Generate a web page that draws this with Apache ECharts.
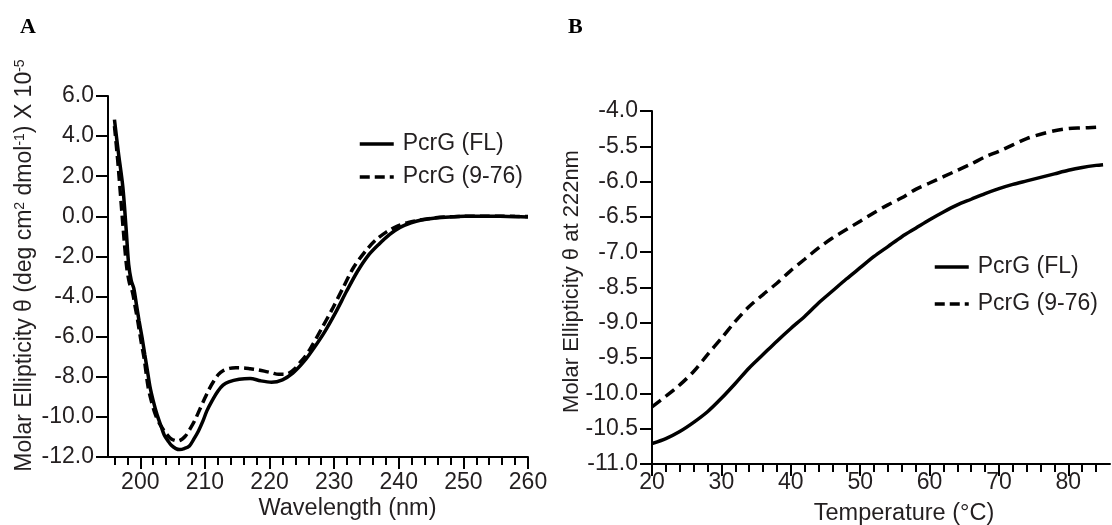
<!DOCTYPE html>
<html><head><meta charset="utf-8">
<script src="https://cdn.jsdelivr.net/npm/echarts@6/dist/echarts.min.js"></script>
<style>html,body{margin:0;padding:0;background:#fff}#c{width:1112px;height:525px}</style>
</head><body><div id="c"></div>
<script>
// ---- Panel A: CD spectra ----
const wlFL = [196, 196.6, 197.3, 197.8, 198.2, 198.6, 199.0, 199.4, 199.8, 200.3, 200.7, 201.1, 201.5, 202.0, 202.6, 203.2, 203.7, 204.3, 204.8, 205.5, 206.1, 206.8, 207.6, 208.3, 209.0, 209.7, 210.3, 211.1, 212.0, 212.8, 213.7, 215.3, 217.0, 218.6, 220.3, 222.0, 223.6, 225.3, 226.9, 228.6, 230.3, 231.9, 233.6, 235.2, 236.9, 238.6, 240.2, 241.9, 243.5, 245.7, 247.9, 250.2, 253, 255.7, 258, 260];
const cdFL = [4.82, 3.2, 1.45, -0.6, -2.4, -3.2, -3.6, -4.4, -5.2, -6.1, -6.9, -7.7, -8.5, -9.2, -9.9, -10.45, -10.9, -11.2, -11.42, -11.58, -11.63, -11.58, -11.45, -11.1, -10.7, -10.2, -9.7, -9.2, -8.72, -8.42, -8.25, -8.12, -8.08, -8.2, -8.27, -8.15, -7.82, -7.25, -6.55, -5.72, -4.75, -3.75, -2.75, -1.98, -1.4, -0.9, -0.55, -0.32, -0.18, -0.08, -0.03, 0, 0.01, 0, -0.02, -0.03];
const wl976 = [196.0, 196.5, 197.0, 197.5, 197.9, 198.3, 198.8, 199.2, 199.6, 200.1, 200.6, 201.2, 201.7, 202.3, 203.0, 203.7, 204.3, 204.8, 205.4, 205.9, 206.5, 207.0, 207.7, 208.4, 209.1, 209.8, 210.6, 211.4, 212.1, 212.8, 213.8, 214.8, 216.0, 217.0, 218.1, 219.2, 220.3, 221.4, 222.3, 223.1, 223.9, 224.7, 225.6, 226.4, 228.0, 229.7, 231.4, 233.0, 234.7, 236.3, 238.0, 239.7, 241.5, 243.5, 245.7, 248, 250.2, 253, 255.7, 258, 260];
const cd976 = [4.5, 2.8, 0.8, -1.2, -2.55, -3.3, -3.8, -4.5, -5.2, -6.2, -7.1, -8.5, -9.2, -9.85, -10.35, -10.7, -10.95, -11.1, -11.18, -11.2, -11.1, -10.95, -10.6, -10.2, -9.7, -9.2, -8.65, -8.2, -7.88, -7.7, -7.58, -7.55, -7.56, -7.6, -7.65, -7.72, -7.8, -7.88, -7.88, -7.8, -7.6, -7.3, -6.95, -6.55, -5.63, -4.63, -3.55, -2.55, -1.8, -1.22, -0.8, -0.5, -0.3, -0.17, -0.07, -0.02, 0, 0.01, 0.01, 0, -0.01];
const xMajorA = [200, 210, 220, 230, 240, 250, 260];
const xMinorA = [196, 198, 202, 204, 206, 208, 212, 214, 216, 218, 222, 224, 226, 228, 232, 234, 236, 238, 242, 244, 246, 248, 252, 254, 256, 258];

// ---- Panel B: thermal melt at 222 nm ----
const tempFL = [20, 22, 24, 26, 28, 30, 32, 34, 36, 38, 40, 42, 44, 46, 48, 50, 52, 54, 56, 58, 60, 62, 64, 66, 68, 70, 72, 74, 76, 78, 80, 82, 84, 85];
const thFL = [-10.71, -10.64, -10.54, -10.41, -10.26, -10.07, -9.86, -9.64, -9.45, -9.26, -9.08, -8.91, -8.72, -8.55, -8.38, -8.22, -8.06, -7.92, -7.78, -7.66, -7.54, -7.43, -7.33, -7.25, -7.17, -7.10, -7.04, -6.99, -6.94, -6.89, -6.84, -6.80, -6.77, -6.76];
const temp976 = [20, 22, 24, 26, 28, 30, 32, 34, 36, 38, 40, 42, 44, 46, 48, 50, 52, 54, 56, 58, 60, 62, 64, 66, 68, 70, 72, 74, 76, 78, 80, 82, 84];
const th976 = [-10.19, -10.04, -9.88, -9.69, -9.45, -9.22, -8.98, -8.77, -8.60, -8.44, -8.26, -8.10, -7.94, -7.80, -7.68, -7.56, -7.44, -7.33, -7.23, -7.11, -7.02, -6.93, -6.84, -6.75, -6.65, -6.57, -6.48, -6.39, -6.33, -6.28, -6.25, -6.24, -6.23];
const xMajorB = [20, 30, 40, 50, 60, 70, 80];
const xMinorB = [22, 24, 26, 28, 32, 34, 36, 38, 42, 44, 46, 48, 52, 54, 56, 58, 62, 64, 66, 68, 72, 74, 76, 78, 82, 84];
const yLabelsB = ['-11.0', '-10.5', '-10.0', '-9.5', '-9.0', '-8.5', '-7.0', '-6.5', '-6.0', '-5.5', '-4.0'];

const names = ['PcrG (FL)', 'PcrG (9-76)'];

const zip = (a, b) => a.map((v, i) => [v, b[i]]);
const FONT = '"Liberation Sans", Arial, Helvetica, sans-serif';
const TXT = '#231f20';
const axisLine = { show: true, onZero: false, lineStyle: { color: '#000', width: 2 } };
const tickStyle = { color: '#000', width: 2 };

function mainX(grid, min, max, major, name, gap, margin, pad) {
  return {
    type: 'value', gridIndex: grid, min: min, max: max, position: 'bottom',
    axisLine: axisLine,
    axisTick: { show: true, customValues: major, length: 12, lineStyle: tickStyle },
    axisLabel: { show: true, customValues: major, fontSize: 23, color: TXT, fontFamily: FONT, margin: margin },
    splitLine: { show: false },
    name: name, nameLocation: 'middle', nameGap: gap, nameMoveOverlap: false,
    nameTextStyle: { fontSize: 23.5, color: TXT, fontFamily: FONT, padding: pad }
  };
}
function minorX(grid, min, max, minor) {
  return {
    type: 'value', gridIndex: grid, min: min, max: max, position: 'bottom', offset: 0,
    axisLine: { show: false, onZero: false },
    axisTick: { show: true, customValues: minor, length: 8, lineStyle: tickStyle },
    axisLabel: { show: false },
    splitLine: { show: false }
  };
}
function legendAt(left, top, gap) {
  return {
    data: names.slice(), orient: 'vertical', left: left, top: top, padding: 0,
    itemWidth: 34, itemHeight: 14, itemGap: gap,
    itemStyle: { opacity: 0 },
    lineStyle: { width: 3.5 },
    textStyle: { fontSize: 23, color: TXT, fontFamily: FONT, lineHeight: 24, padding: [0, 0, 0, 4] },
    selectedMode: false
  };
}

const chart = echarts.init(document.getElementById('c'), null, { renderer: 'canvas' });
chart.setOption({
  animation: false,
  backgroundColor: '#fff',
  title: [
    { text: 'A', left: 20, top: 16, padding: 0, textStyle: { fontFamily: '"Liberation Serif", "Times New Roman", serif', fontWeight: 'bold', fontSize: 22, color: '#000' } },
    { text: 'B', left: 568, top: 16, padding: 0, textStyle: { fontFamily: '"Liberation Serif", "Times New Roman", serif', fontWeight: 'bold', fontSize: 22, color: '#000' } }
  ],
  grid: [
    { left: 108, top: 96, width: 420, height: 361, outerBoundsMode: 'none', containLabel: false },
    { left: 652, top: 111, width: 458, height: 353, outerBoundsMode: 'none', containLabel: false }
  ],
  legend: [legendAt(358, 132, 9), legendAt(933, 255, 13)],
  xAxis: [
    mainX(0, 195, 260, xMajorA, 'Wavelength (nm)', 40, 14, [0, 0, 0, 59]),
    minorX(0, 195, 260, xMinorA),
    mainX(1, 20, 86, xMajorB, 'Temperature (°C)', 38, 7, [0, 0, 0, 46]),
    minorX(1, 20, 86, xMinorB)
  ],
  yAxis: [
    {
      type: 'value', gridIndex: 0, min: -12, max: 6, interval: 2,
      axisLine: axisLine,
      axisTick: { show: true, length: 12, lineStyle: tickStyle },
      axisLabel: { fontSize: 23, color: TXT, fontFamily: FONT, margin: 14, formatter: v => v.toFixed(1) },
      splitLine: { show: false },
      name: 'Molar Ellipticity θ (deg cm{s|2} dmol{s|-1}) X 10{s|-5}',
      nameLocation: 'middle', nameGap: 72, nameMoveOverlap: false,
      nameTextStyle: { fontSize: 23, color: TXT, fontFamily: FONT, padding: [0, 0, 0, 22],
        rich: { s: { fontSize: 14, color: TXT, fontFamily: FONT, verticalAlign: 'top', lineHeight: 23 } } }
    },
    {
      type: 'value', gridIndex: 1, min: -11, max: -6, interval: 0.5,
      axisLine: axisLine,
      axisTick: { show: true, length: 12, lineStyle: tickStyle },
      axisLabel: { fontSize: 23, color: TXT, fontFamily: FONT, margin: 14,
        formatter: v => yLabelsB[Math.round((v + 11) / 0.5)] },
      splitLine: { show: false },
      name: 'Molar Ellipticity θ at 222nm',
      nameLocation: 'middle', nameGap: 69, nameMoveOverlap: false,
      nameTextStyle: { fontSize: 22, color: TXT, fontFamily: FONT, padding: [0, 0, 0, 12] }
    }
  ],
  series: [
    { name: names[0], type: 'line', xAxisIndex: 0, yAxisIndex: 0, data: zip(wlFL, cdFL), smooth: 0.3, symbol: 'none',
      lineStyle: { color: '#000', width: 3.5, type: 'solid' }, itemStyle: { color: '#000' }, z: 3 },
    { name: names[1], type: 'line', xAxisIndex: 0, yAxisIndex: 0, data: zip(wl976, cd976), smooth: 0.3, symbol: 'none',
      lineStyle: { color: '#000', width: 3.5, type: [10, 5] }, itemStyle: { color: '#000' }, z: 3 },
    { name: names[0], type: 'line', xAxisIndex: 2, yAxisIndex: 1, data: zip(tempFL, thFL), smooth: 0.3, symbol: 'none',
      lineStyle: { color: '#000', width: 3.5, type: 'solid' }, itemStyle: { color: '#000' }, z: 3 },
    { name: names[1], type: 'line', xAxisIndex: 2, yAxisIndex: 1, data: zip(temp976, th976), smooth: 0.3, symbol: 'none',
      lineStyle: { color: '#000', width: 3.5, type: [11, 6] }, itemStyle: { color: '#000' }, z: 3 }
  ]
});
</script></body></html>
